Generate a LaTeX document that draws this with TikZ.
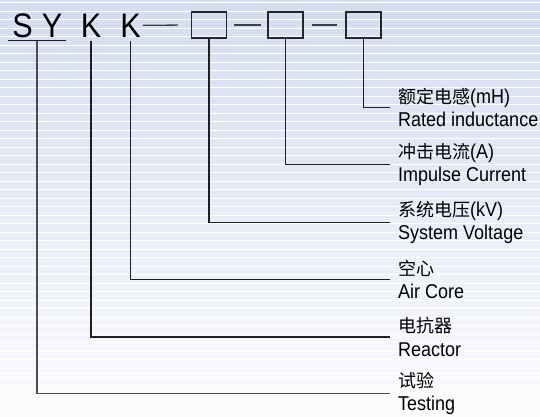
\documentclass[tikz,border=0pt]{standalone}
\usepackage{fontspec}
\setmainfont{Liberation Sans}
\newfontfamily\narrowfont[FakeStretch=0.9]{Liberation Sans}
\newfontfamily\cjk{Noto Sans CJK SC}
\begin{document}
\begin{tikzpicture}[x=1pt,y=-1pt,
  letter/.style={anchor=base,inner sep=0pt,font=\narrowfont\fontsize{34}{34}\selectfont},
  codebox/.style={draw=black!85,line width=1.4pt,minimum width=35pt,minimum height=26pt,inner sep=0pt},
  dashline/.style={draw=black!75,line width=1.3pt},
  lead/.style={draw=black!88,line width=1.3pt},
  label/.style={anchor=west,align=left,inner xsep=8pt,inner ysep=0pt,font=\narrowfont\fontsize{20}{23.5}\selectfont}]
\useasboundingbox (0,0) rectangle (540,416);
% background
\fill[top color={rgb,255:red,212;green,220;blue,240},bottom color={rgb,255:red,252;green,252;blue,254}] (0,0) rectangle (540,416);
\foreach \i in {0,...,48} \fill[white] (0,{2.1+8.5*\i}) rectangle (540,{3.4+8.5*\i});
% title
\node[letter] (S) at (22.5,37) {S};
\node[letter] (Y) at (52,37) {Y};
\node[letter] (K1) at (91,37) {K};
\node[letter] (K2) at (130.5,37) {K};
\node[codebox] (b1) at (209,25) {};
\node[codebox] (b2) at (285.5,25) {};
\node[codebox] (b3) at (363.5,25) {};
\draw[dashline,shorten <=2pt,shorten >=13pt] (K2.east) -- (b1.west);
\draw[dashline,shorten <=7pt,shorten >=6pt] (b1.east) -- (b2.west);
\draw[dashline,shorten <=8pt,shorten >=8pt] (b2.east) -- (b3.west);
\coordinate (ul1) at (8,40.5);
\coordinate (ul2) at (66,40.5);
\coordinate (ulm) at (37,40.5);
\draw[lead] (ul1) -- (ul2);
% labels
\node[label] (lr) at (390,107.5) {{\cjk\fontsize{18}{23.5}\selectfont 额定电感}(mH)\\Rated inductance};
\node[label] (li) at (390,164.5) {{\cjk\fontsize{18}{23.5}\selectfont 冲击电流}(A)\\Impulse Current};
\node[label] (ls) at (390,222.5) {{\cjk\fontsize{18}{23.5}\selectfont 系统电压}(kV)\\System Voltage};
\node[label] (la) at (390,279.5) {{\cjk\fontsize{18}{23.5}\selectfont 空心}\\Air Core};
\node[label] (lre) at (390,337) {{\cjk\fontsize{18}{23.5}\selectfont 电抗器}\\Reactor};
\node[label] (lt) at (390,393.5) {{\cjk\fontsize{18}{23.5}\selectfont 试验}\\Testing};
% leaders
\draw[lead] (b3.south) |- (lr.west);
\draw[lead] (b2.south) |- (li.west);
\draw[lead] (b1.south) |- (ls.west);
\draw[lead] ([yshift=-3.5pt]K2.base) |- (la.west);
\draw[lead] ([yshift=-3.5pt]K1.base) |- (lre.west);
\draw[lead,draw=black!70,line width=1.6pt] (ulm) |- (lt.west);
\end{tikzpicture}
\end{document}
